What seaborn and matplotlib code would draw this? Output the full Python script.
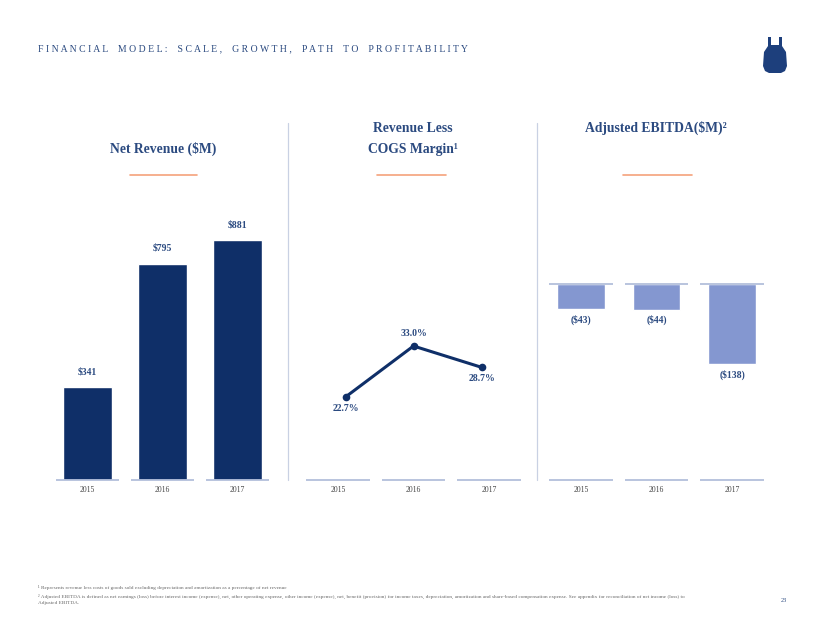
import matplotlib
matplotlib.use("Agg")
import matplotlib.pyplot as plt
import seaborn as sns
import pandas as pd
from matplotlib.patches import Polygon

# data
years = ["2015", "2016", "2017"]
net_revenue = [341, 795, 881]
margin_pct = [22.7, 33.0, 28.7]
ebitda = [-43, -44, -138]
revenue_labels = ["$341", "$795", "$881"]
margin_labels = ["22.7%", "33.0%", "28.7%"]
ebitda_labels = ["($43)", "($44)", "($138)"]

NAVY = "#0f2f68"
TXT = "#2b4a80"
LIGHT = "#8497d0"
RULE = "#b3bfdb"
ORANGE = "#f5a27c"
SERIF = ["Liberation Serif", "DejaVu Serif"]

sns.set_theme(style="white")
plt.rcParams["font.family"] = SERIF

W, H = 824, 637
fig = plt.figure(figsize=(W / 100, H / 100), dpi=100)
fig.patch.set_facecolor("white")


def rect(x0, x1, y0, y1):
    # pixel box (top-left origin) -> figure fraction
    return [x0 / W, 1 - y1 / H, (x1 - x0) / W, (y1 - y0) / H]


def fx(x):
    return x / W


def fy(y):
    return 1 - y / H


def base_axes(ax):
    for s in ax.spines.values():
        s.set_visible(False)
    ax.set_xlim(-0.5, 2.5)
    ax.set_yticks([])
    ax.set_xlabel("")
    ax.set_ylabel("")
    ax.tick_params(axis="x", length=0, pad=4, labelsize=5.5, labelcolor="#444444")
    ax.set_facecolor("none")


def segments(ax, y):
    for i in range(3):
        ax.plot([i - 0.42, i + 0.42], [y, y], color=RULE, lw=1.3,
                solid_capstyle="butt", zorder=3, clip_on=False)


# panel 1: net revenue
ax1 = fig.add_axes(rect(50, 275, 200, 480))
df1 = pd.DataFrame({"year": years, "rev": net_revenue})
sns.barplot(data=df1, x="year", y="rev", color=NAVY, saturation=1, width=0.66, ax=ax1)
base_axes(ax1)
ax1.set_ylim(0, 280 / 0.272)
segments(ax1, 0)
for i, (v, lab) in enumerate(zip(net_revenue, revenue_labels)):
    ax1.annotate(lab, (i, v), xytext=(0, 8), textcoords="offset points",
                 ha="center", va="bottom", fontsize=7, color=TXT, fontweight="bold")

# panel 2: margin line
ax2 = fig.add_axes(rect(300, 527, 200, 480))
ax2.bar(years, [0, 0, 0], color="none")
base_axes(ax2)
ylo = 22.7 - (480 - 397) / 4.95
yhi = 22.7 + (397 - 200) / 4.95
ax2.set_ylim(ylo, yhi)
segments(ax2, ylo)
ax2b = ax2.twiny()
df2 = pd.DataFrame({"year": [int(y) for y in years], "m": margin_pct})
sns.lineplot(data=df2, x="year", y="m", color=NAVY, lw=2.2, marker="o",
             markersize=5.5, markeredgewidth=0, ax=ax2b)
ax2b.set_xlim(2016 - 227 / 68 / 2, 2016 + 227 / 68 / 2)
ax2b.set_ylim(ylo, yhi)
ax2b.set_xticks([])
ax2b.set_xlabel("")
ax2b.set_ylabel("")
for s in ax2b.spines.values():
    s.set_visible(False)
for yr, v, lab in zip(df2["year"], margin_pct, margin_labels):
    above = v == max(margin_pct)
    ax2b.annotate(lab, (yr, v), xytext=(0, 6 if above else -5), textcoords="offset points",
                  ha="center", va="bottom" if above else "top",
                  fontsize=7, color=TXT, fontweight="bold")

# panel 3: adjusted EBITDA
ax3 = fig.add_axes(rect(543, 770, 200, 480))
df3 = pd.DataFrame({"year": years, "e": ebitda})
sns.barplot(data=df3, x="year", y="e", color=LIGHT, saturation=1, width=0.63, ax=ax3)
base_axes(ax3)
ax3.set_ylim(-(480 - 284) / 0.58, (284 - 200) / 0.58)
segments(ax3, 0)
segments(ax3, ax3.get_ylim()[0])
for i, (v, lab) in enumerate(zip(ebitda, ebitda_labels)):
    ax3.annotate(lab, (i, v), xytext=(0, -4), textcoords="offset points",
                 ha="center", va="top", fontsize=7, color=TXT, fontweight="bold")

# separators
for x in (288, 537):
    fig.add_artist(plt.Line2D([fx(x), fx(x)], [fy(123), fy(480)], color="#c9d1e3", lw=0.9))

# panel titles
tkw = dict(ha="center", va="center", fontsize=9.8, color=TXT, fontweight="bold")
fig.text(fx(163), fy(149), "Net Revenue ($M)", **tkw)
fig.text(fx(413), fy(128), "Revenue Less", **tkw)
fig.text(fx(413), fy(150), "COGS Margin¹", **tkw)
fig.text(fx(656), fy(128), "Adjusted EBITDA($M)²", **tkw)
for x0, x1 in ((130, 197), (377, 446), (623, 692)):
    fig.add_artist(plt.Line2D([fx(x0), fx(x1)], [fy(175), fy(175)], color=ORANGE, lw=1.2))

# header
head = "FINANCIAL MODEL: SCALE, GROWTH, PATH TO PROFITABILITY"
spaced = "    ".join(" ".join(w) for w in head.split(" "))
fig.text(fx(38), fy(49), spaced, ha="left", va="center", fontsize=7, color=TXT)

# apron logo
apron = [(768, 37), (771, 37), (771, 45), (779, 45), (779, 37), (782, 37), (782, 46),
         (786, 52), (787, 66), (785, 71), (781, 73), (769, 73), (765, 71), (763, 66),
         (764, 52), (768, 46)]
fig.add_artist(Polygon([(fx(x), fy(y)) for x, y in apron], closed=True,
                       transform=fig.transFigure, facecolor="#1d3f7c", edgecolor="none"))

# footnotes
fkw = dict(ha="left", va="center", fontsize=3.75, color="#666666")
fig.text(fx(38), fy(588), "¹ Represents revenue less costs of goods sold excluding depreciation "
         "and amortization as a percentage of net revenue", **fkw)
fig.text(fx(38), fy(596), "² Adjusted EBITDA is defined as net earnings (loss) before interest income "
         "(expense), net, other operating expense, other income (expense), net, benefit (provision) "
         "for income taxes, depreciation, amortization and share-based compensation expense. See "
         "appendix for reconciliation of net income (loss) to", **fkw)
fig.text(fx(38), fy(603), "Adjusted EBITDA.", **fkw)
fig.text(fx(784), fy(601), "23", ha="center", va="center", fontsize=4.5, color=TXT)

fig.savefig("out.png", dpi=100, facecolor="white")
